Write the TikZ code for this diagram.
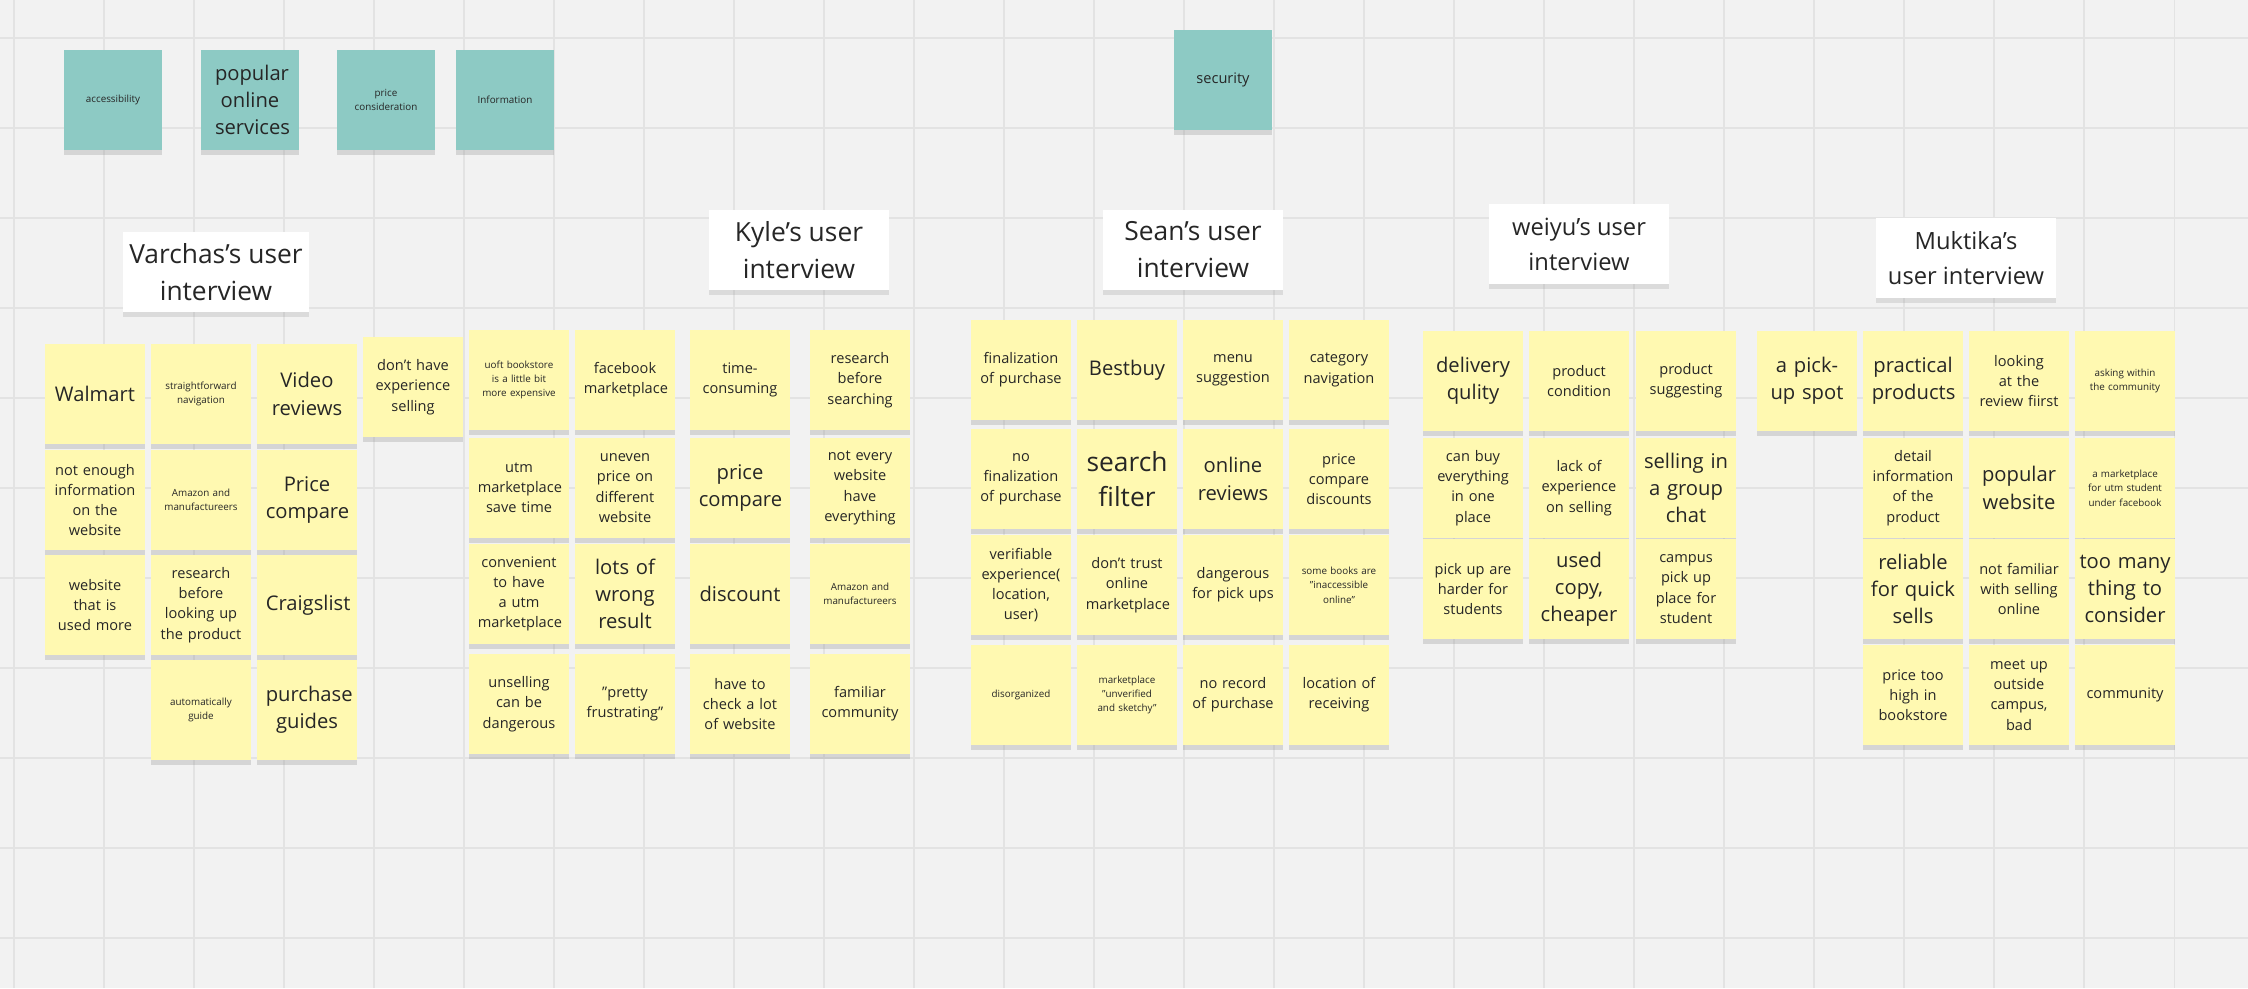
\documentclass[tikz,border=0pt]{standalone}
\usepackage{fontspec}
\setmainfont{Open Sans}
\hyphenpenalty=10000
\exhyphenpenalty=10000
\usetikzlibrary{shadows}
\definecolor{bg}{HTML}{F2F2F2}
\definecolor{gridc}{HTML}{E3E3E3}
\definecolor{sticky}{HTML}{FFF9B1}
\definecolor{teal}{HTML}{8DCAC4}
\tikzset{
 note/.style={fill=sticky, minimum width=2cm, minimum height=2cm, inner sep=1pt, text width=1.65cm, align=center, text=black!85,
   drop shadow={shadow xshift=0pt, shadow yshift=-0.1cm, opacity=0.25}},
 tnote/.style={note, fill=teal, minimum width=1.96cm, text width=1.4cm},
 big/.style={font=\fontsize{11.5}{15.5}\selectfont},
 mid/.style={font=\fontsize{8.3}{11.5}\selectfont},
 sml/.style={font=\fontsize{5.6}{8.2}\selectfont},
 title/.style={fill=white, minimum width=3.6cm, minimum height=1.6cm, align=center, font=\fontsize{15}{21}\selectfont, text=black!85,
   drop shadow={shadow xshift=0pt, shadow yshift=-0.1cm, opacity=0.2}},
}
\begin{document}
\begin{tikzpicture}[x=0.02cm,y=-0.02cm]
\fill[bg] (0,0) rectangle (2248,988);
\useasboundingbox (0,0) rectangle (2248,988);
\foreach \i in {0,...,25} {\draw[gridc, line width=0.6pt] ({14+90*\i},0) -- ({14+90*\i},988);}
\foreach \j in {0,...,10} {\draw[gridc, line width=0.6pt] (0,{38+90*\j}) -- (2248,{38+90*\j});}
% categories
\node[tnote,sml] (t1) at (113,100) {accessibility};
\node[tnote,big] (t2) at (250,100) {popular online services};
\node[tnote,sml] (t3) at (386,100) {price consideration};
\node[tnote,sml] (t4) at (505,100) {Information};
\node[tnote,mid] (t5) at (1223,80) {security};
% titles
\node[title] (h1) at (216,272) {Varchas’s user\\interview};
\node[title] (h2) at (799,250) {Kyle’s user\\interview};
\node[title] (h3) at (1193,250) {Sean's user\\interview};
\node[title,font=\fontsize{13.5}{20}\selectfont] (h4) at (1579,244) {weiyu's user\\interview};
\node[title,font=\fontsize{13.5}{20}\selectfont] (h5) at (1966,258) {Muktika's\\user interview};
% Varchas
\node[note,big] (v11) at (95,394) {Walmart};
\node[note,mid] (v21) at (95,500) {not enough information on the website};
\node[note,mid] (v31) at (95,605) {website that is used more};
\node[note,sml] (v12) at (201,394) {straightforward navigation};
\node[note,sml] (v22) at (201,500) {Amazon and manufactureers};
\node[note,mid] (v32) at (201,605) {research before looking up the product};
\node[note,sml] (v42) at (201,710) {automatically\\guide};
\node[note,big] (v13) at (307,394) {Video reviews};
\node[note,big] (v23) at (307,500) {Price compare};
\node[note,big] (v33) at (307,605) {Craigslist};
\node[note,big] (v43) at (307,710) {purchase guides};
\node[note,mid] (v50) at (413,387) {don't have experience selling};
% Kyle
\node[note,sml] (k11) at (519,380) {uoft bookstore is a little bit more expensive};
\node[note,mid] (k21) at (519,488) {utm marketplace save time};
\node[note,mid] (k31) at (519,594) {convenient to have a utm marketplace};
\node[note,mid] (k41) at (519,704) {unselling can be dangerous};
\node[note,mid] (k12) at (625,380) {facebook marketplace};
\node[note,mid] (k22) at (625,488) {uneven price on different website};
\node[note,big] (k32) at (625,594) {lots of wrong result};
\node[note,mid] (k42) at (625,704) {"pretty frustrating"};
\node[note,mid] (k13) at (740,380) {time-\\consuming};
\node[note,big] (k23) at (740,488) {price compare};
\node[note,big] (k33) at (740,594) {discount};
\node[note,mid] (k43) at (740,704) {have to check a lot of website};
\node[note,mid] (k14) at (860,380) {research before searching};
\node[note,mid] (k24) at (860,488) {not every website have everything};
\node[note,sml] (k34) at (860,594) {Amazon and manufactureers};
\node[note,mid] (k44) at (860,704) {familiar community};
% Sean
\node[note,mid] (s11) at (1021,370) {finalization of purchase};
\node[note,mid] (s21) at (1021,479) {no finalization of purchase};
\node[note,mid] (s31) at (1021,585) {verifiable experience( location, user)};
\node[note,sml] (s41) at (1021,695) {disorganized};
\node[note,big] (s12) at (1127,370) {Bestbuy};
\node[note,font=\fontsize{15}{20}\selectfont] (s22) at (1127,479) {search filter};
\node[note,mid] (s32) at (1127,585) {don't trust online marketplace};
\node[note,sml] (s42) at (1127,695) {marketplace "unverified and sketchy"};
\node[note,mid] (s13) at (1233,370) {menu suggestion};
\node[note,big] (s23) at (1233,479) {online reviews};
\node[note,mid] (s33) at (1233,585) {dangerous for pick ups};
\node[note,mid] (s43) at (1233,695) {no record of purchase};
\node[note,mid] (s14) at (1339,370) {category navigation};
\node[note,mid] (s24) at (1339,479) {price compare discounts};
\node[note,sml] (s34) at (1339,585) {some books are "inaccessible online"};
\node[note,mid] (s44) at (1339,695) {location of receiving};
% weiyu
\node[note,big] (w11) at (1473,381) {delivery qulity};
\node[note,mid] (w21) at (1473,488) {can buy everything in one place};
\node[note,mid] (w31) at (1473,589) {pick up are harder for students};
\node[note,mid] (w12) at (1579,381) {product condition};
\node[note,mid] (w22) at (1579,488) {lack of experience on selling};
\node[note,big] (w32) at (1579,589) {used copy, cheaper};
\node[note,mid] (w13) at (1686,381) {product suggesting};
\node[note,big,text width=1.9cm] (w23) at (1686,488) {selling in\\a group\\chat};
\node[note,mid] (w33) at (1686,589) {campus pick up place for student};
\node[note,big] (p0) at (1807,381) {a pick-\\up spot};
% Muktika
\node[note,big] (m11) at (1913,381) {practical products};
\node[note,mid] (m21) at (1913,488) {detail information of the product};
\node[note,big,text width=1.9cm] (m31) at (1913,589) {reliable\\for quick\\sells};
\node[note,mid] (m41) at (1913,695) {price too high in bookstore};
\node[note,mid] (m12) at (2019,381) {looking at the review fiirst};
\node[note,big] (m22) at (2019,488) {popular website};
\node[note,mid] (m32) at (2019,589) {not familiar with selling online};
\node[note,mid] (m42) at (2019,695) {meet up outside campus, bad};
\node[note,sml] (m13) at (2125,381) {asking within the community};
\node[note,sml] (m23) at (2125,488) {a marketplace for utm student under facebook};
\node[note,big,text width=1.9cm] (m33) at (2125,589) {too many\\thing to\\consider};
\node[note,mid] (m43) at (2125,695) {community};
\end{tikzpicture}
\end{document}
